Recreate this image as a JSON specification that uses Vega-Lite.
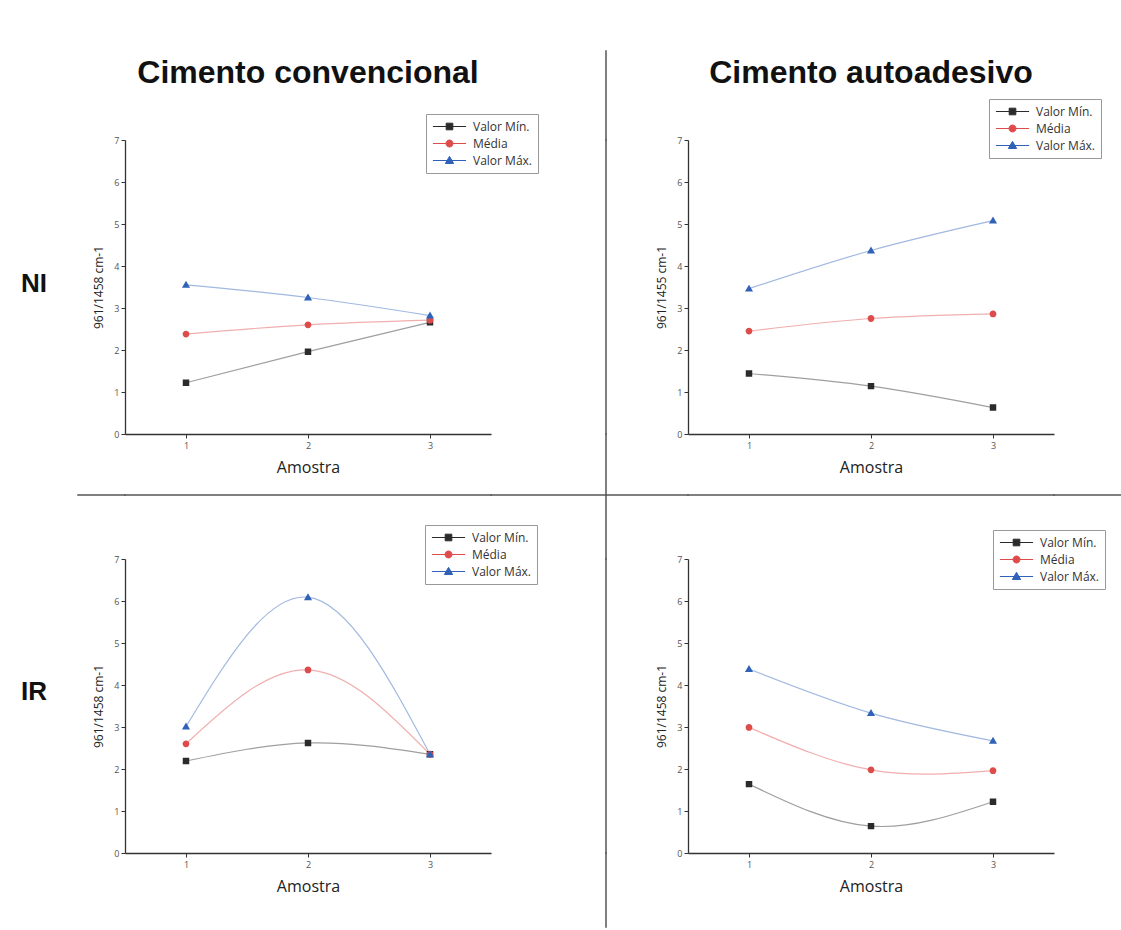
{
  "$schema": "https://vega.github.io/schema/vega-lite/v6.json",
  "background": "white",
  "padding": {"left": 0, "top": 50, "right": 0, "bottom": 5},
  "columns": 8,
  "align": "each",
  "bounds": "flush",
  "spacing": 0,
  "resolve": {"scale": {"color": "independent", "shape": "independent"}, "legend": {"color": "independent", "shape": "independent"}},
  "config": {
    "view": {"stroke": null},
    "axis": {"grid": false, "labelFont": "Open Sans", "labelFontSize": 9, "labelColor": "#555", "titleFont": "Open Sans", "titleFontWeight": "normal", "titleColor": "#222", "domainColor": "#333", "tickColor": "#333", "domainWidth": 1.3, "labelOverlap": false},
    "legend": {"title": null, "fillColor": "white", "strokeColor": "#999", "padding": 6, "symbolSize": 1100, "clipHeight": 13, "symbolOpacity": 1, "symbolStrokeWidth": 1, "symbolStrokeColor": "#999", "labelFont": "Open Sans", "labelFontSize": 12, "labelColor": "#333", "labelOffset": 6, "rowPadding": 4}
  },
  "datasets": {
    "valores": [
      {"painel": "conv_NI", "amostra": 1, "serie": "Valor Mín.", "valor": 1.22},
      {"painel": "conv_NI", "amostra": 2, "serie": "Valor Mín.", "valor": 1.96},
      {"painel": "conv_NI", "amostra": 3, "serie": "Valor Mín.", "valor": 2.66},
      {"painel": "conv_NI", "amostra": 1, "serie": "Média", "valor": 2.38},
      {"painel": "conv_NI", "amostra": 2, "serie": "Média", "valor": 2.6},
      {"painel": "conv_NI", "amostra": 3, "serie": "Média", "valor": 2.71},
      {"painel": "conv_NI", "amostra": 1, "serie": "Valor Máx.", "valor": 3.55},
      {"painel": "conv_NI", "amostra": 2, "serie": "Valor Máx.", "valor": 3.25},
      {"painel": "conv_NI", "amostra": 3, "serie": "Valor Máx.", "valor": 2.82},
      {"painel": "auto_NI", "amostra": 1, "serie": "Valor Mín.", "valor": 1.44},
      {"painel": "auto_NI", "amostra": 2, "serie": "Valor Mín.", "valor": 1.14},
      {"painel": "auto_NI", "amostra": 3, "serie": "Valor Mín.", "valor": 0.63},
      {"painel": "auto_NI", "amostra": 1, "serie": "Média", "valor": 2.45},
      {"painel": "auto_NI", "amostra": 2, "serie": "Média", "valor": 2.75},
      {"painel": "auto_NI", "amostra": 3, "serie": "Média", "valor": 2.86},
      {"painel": "auto_NI", "amostra": 1, "serie": "Valor Máx.", "valor": 3.46},
      {"painel": "auto_NI", "amostra": 2, "serie": "Valor Máx.", "valor": 4.37},
      {"painel": "auto_NI", "amostra": 3, "serie": "Valor Máx.", "valor": 5.08},
      {"painel": "conv_IR", "amostra": 1, "serie": "Valor Mín.", "valor": 2.19},
      {"painel": "conv_IR", "amostra": 2, "serie": "Valor Mín.", "valor": 2.62},
      {"painel": "conv_IR", "amostra": 3, "serie": "Valor Mín.", "valor": 2.35},
      {"painel": "conv_IR", "amostra": 1, "serie": "Média", "valor": 2.6},
      {"painel": "conv_IR", "amostra": 2, "serie": "Média", "valor": 4.36},
      {"painel": "conv_IR", "amostra": 3, "serie": "Média", "valor": 2.35},
      {"painel": "conv_IR", "amostra": 1, "serie": "Valor Máx.", "valor": 3.01},
      {"painel": "conv_IR", "amostra": 2, "serie": "Valor Máx.", "valor": 6.09},
      {"painel": "conv_IR", "amostra": 3, "serie": "Valor Máx.", "valor": 2.35},
      {"painel": "auto_IR", "amostra": 1, "serie": "Valor Mín.", "valor": 1.64},
      {"painel": "auto_IR", "amostra": 2, "serie": "Valor Mín.", "valor": 0.64},
      {"painel": "auto_IR", "amostra": 3, "serie": "Valor Mín.", "valor": 1.22},
      {"painel": "auto_IR", "amostra": 1, "serie": "Média", "valor": 2.99},
      {"painel": "auto_IR", "amostra": 2, "serie": "Média", "valor": 1.98},
      {"painel": "auto_IR", "amostra": 3, "serie": "Média", "valor": 1.96},
      {"painel": "auto_IR", "amostra": 1, "serie": "Valor Máx.", "valor": 4.38},
      {"painel": "auto_IR", "amostra": 2, "serie": "Valor Máx.", "valor": 3.33},
      {"painel": "auto_IR", "amostra": 3, "serie": "Valor Máx.", "valor": 2.67}
    ],
    "rotulos": [
      {"id": "conv", "texto": "Cimento convencional"},
      {"id": "auto", "texto": "Cimento autoadesivo"},
      {"id": "NI", "texto": "NI"},
      {"id": "IR", "texto": "IR"}
    ]
  },
  "concat": [
    {"width": 0.001, "height": 0.001, "data": {"values": []}, "mark": "point"},
    {"width": 0.001, "height": 0.001, "data": {"values": []}, "mark": "point"},
    {"width": 366, "height": 44, "data": {"name": "rotulos"}, "transform": [{"filter": "datum.id == 'conv'"}], "mark": {"type": "text", "font": "Liberation Sans", "fontWeight": "bold", "fontSize": 32, "color": "#111"}, "encoding": {"text": {"field": "texto"}}},
    {"width": 0.001, "height": 0.001, "data": {"values": []}, "mark": "point"},
    {"width": 0.001, "height": 89, "data": {"values": []}, "mark": "point", "view": {"stroke": "#555", "strokeWidth": 1.5}},
    {"width": 0.001, "height": 0.001, "data": {"values": []}, "mark": "point"},
    {"width": 366, "height": 44, "data": {"name": "rotulos"}, "transform": [{"filter": "datum.id == 'auto'"}], "mark": {"type": "text", "font": "Liberation Sans", "fontWeight": "bold", "fontSize": 32, "color": "#111"}, "encoding": {"text": {"field": "texto"}}},
    {"width": 0.001, "height": 0.001, "data": {"values": []}, "mark": "point"},

    {"width": 42, "height": 288, "data": {"name": "rotulos"}, "transform": [{"filter": "datum.id == 'NI'"}], "mark": {"type": "text", "font": "Liberation Sans", "fontWeight": "bold", "fontSize": 26, "align": "left", "color": "#111"}, "encoding": {"text": {"field": "texto"}}},
    {"width": 0.001, "height": 0.001, "data": {"values": []}, "mark": "point"},
    {
      "width": 366, "height": 294,
      "data": {"name": "valores"},
      "transform": [{"filter": "datum.painel == 'conv_NI'"}],
      "encoding": {
        "x": {"field": "amostra", "type": "quantitative", "scale": {"domain": [0.5, 3.5], "nice": false}, "axis": {"title": "Amostra", "values": [1, 1.5, 2, 2.5, 3], "format": "d", "labelExpr": "datum.value % 1 == 0 ? datum.label : ''", "tickSize": {"condition": {"test": "datum.value % 1 != 0", "value": 2}, "value": 4}, "titleFontSize": 16, "titlePadding": 9, "labelPadding": 3}},
        "y": {"field": "valor", "type": "quantitative", "scale": {"domain": [0, 7], "nice": false}, "axis": {"title": "961/1458 cm-1", "tickCount": 70, "format": "d", "labelExpr": "datum.value % 1 == 0 ? datum.label : ''", "tickSize": {"condition": {"test": "datum.value % 1 != 0", "value": 2}, "value": 4}, "titleFontSize": 12, "titlePadding": 8}},
        "color": {"field": "serie", "type": "nominal", "scale": {"domain": ["Valor Mín.", "Média", "Valor Máx."], "range": ["#2b2b2b", "#dd4b4b", "#2f62b8"]},
          "legend": {"orient": "none", "legendX": 301, "legendY": -26, "encode": {"symbols": {"update": {"stroke": {"signal": "datum.value == 'Valor Mín.' ? '#777' : datum.value == 'Média' ? '#ee9a9a' : '#93b8ea'"}}}}}}
      },
      "layer": [
        {"mark": {"type": "line", "interpolate": "natural", "strokeWidth": 1.2, "opacity": 0.45}},
        {"mark": {"type": "point", "filled": true, "size": 1050, "opacity": 1}, "encoding": {"shape": {"field": "serie", "type": "nominal", "scale": {"domain": ["Valor Mín.", "Média", "Valor Máx."], "range": ["M-1,0H1M-0.2,-0.2H0.2V0.2H-0.2Z", "M-1,0H1M0.21,0A0.21,0.21,0,1,1,-0.21,0A0.21,0.21,0,1,1,0.21,0Z", "M-1,0H1M0,-0.25L0.25,0.18H-0.25Z"]}}}}
      ]
    },
    {"width": 0.001, "height": 0.001, "data": {"values": []}, "mark": "point"},
    {"width": 0.001, "height": 294, "data": {"values": []}, "mark": "point", "view": {"stroke": "#555", "strokeWidth": 1.5}},
    {"width": 0.001, "height": 0.001, "data": {"values": []}, "mark": "point"},
    {
      "width": 366, "height": 294,
      "data": {"name": "valores"},
      "transform": [{"filter": "datum.painel == 'auto_NI'"}],
      "encoding": {
        "x": {"field": "amostra", "type": "quantitative", "scale": {"domain": [0.5, 3.5], "nice": false}, "axis": {"title": "Amostra", "values": [1, 1.5, 2, 2.5, 3], "format": "d", "labelExpr": "datum.value % 1 == 0 ? datum.label : ''", "tickSize": {"condition": {"test": "datum.value % 1 != 0", "value": 2}, "value": 4}, "titleFontSize": 16, "titlePadding": 9, "labelPadding": 3}},
        "y": {"field": "valor", "type": "quantitative", "scale": {"domain": [0, 7], "nice": false}, "axis": {"title": "961/1455 cm-1", "tickCount": 70, "format": "d", "labelExpr": "datum.value % 1 == 0 ? datum.label : ''", "tickSize": {"condition": {"test": "datum.value % 1 != 0", "value": 2}, "value": 4}, "titleFontSize": 12, "titlePadding": 8}},
        "color": {"field": "serie", "type": "nominal", "scale": {"domain": ["Valor Mín.", "Média", "Valor Máx."], "range": ["#2b2b2b", "#dd4b4b", "#2f62b8"]},
          "legend": {"orient": "none", "legendX": 301, "legendY": -41, "encode": {"symbols": {"update": {"stroke": {"signal": "datum.value == 'Valor Mín.' ? '#777' : datum.value == 'Média' ? '#ee9a9a' : '#93b8ea'"}}}}}}
      },
      "layer": [
        {"mark": {"type": "line", "interpolate": "natural", "strokeWidth": 1.2, "opacity": 0.45}},
        {"mark": {"type": "point", "filled": true, "size": 1050, "opacity": 1}, "encoding": {"shape": {"field": "serie", "type": "nominal", "scale": {"domain": ["Valor Mín.", "Média", "Valor Máx."], "range": ["M-1,0H1M-0.2,-0.2H0.2V0.2H-0.2Z", "M-1,0H1M0.21,0A0.21,0.21,0,1,1,-0.21,0A0.21,0.21,0,1,1,0.21,0Z", "M-1,0H1M0,-0.25L0.25,0.18H-0.25Z"]}}}}
      ]
    },
    {"width": 0.001, "height": 0.001, "data": {"values": []}, "mark": "point"},

    {"width": 0.001, "height": 0.001, "data": {"values": []}, "mark": "point"},
    {"width": 0.001, "height": 0.001, "data": {"values": []}, "mark": "point"},
    {"width": 0.001, "height": 0.001, "data": {"values": []}, "mark": "point"},
    {"width": 0.001, "height": 0.001, "data": {"values": []}, "mark": "point"},
    {"width": 0.001, "height": 61, "data": {"values": []}, "mark": "point", "view": {"stroke": "#555", "strokeWidth": 1.5}},
    {"width": 0.001, "height": 0.001, "data": {"values": []}, "mark": "point"},
    {"width": 0.001, "height": 0.001, "data": {"values": []}, "mark": "point"},
    {"width": 0.001, "height": 0.001, "data": {"values": []}, "mark": "point"},

    {"width": 78, "height": 0.001, "data": {"values": []}, "mark": "point"},
    {"width": 47, "height": 0.001, "data": {"values": []}, "mark": "point", "view": {"stroke": "#555", "strokeWidth": 1.5}},
    {"width": 366, "height": 0.001, "data": {"values": []}, "mark": "point", "view": {"stroke": "#555", "strokeWidth": 1.5}},
    {"width": 115, "height": 0.001, "data": {"values": []}, "mark": "point", "view": {"stroke": "#555", "strokeWidth": 1.5}},
    {"width": 0.001, "height": 0.001, "data": {"values": []}, "mark": "point"},
    {"width": 81, "height": 0.001, "data": {"values": []}, "mark": "point", "view": {"stroke": "#555", "strokeWidth": 1.5}},
    {"width": 366, "height": 0.001, "data": {"values": []}, "mark": "point", "view": {"stroke": "#555", "strokeWidth": 1.5}},
    {"width": 68, "height": 0.001, "data": {"values": []}, "mark": "point", "view": {"stroke": "#555", "strokeWidth": 1.5}},

    {"width": 0.001, "height": 0.001, "data": {"values": []}, "mark": "point"},
    {"width": 0.001, "height": 0.001, "data": {"values": []}, "mark": "point"},
    {"width": 0.001, "height": 0.001, "data": {"values": []}, "mark": "point"},
    {"width": 0.001, "height": 0.001, "data": {"values": []}, "mark": "point"},
    {"width": 0.001, "height": 63, "data": {"values": []}, "mark": "point", "view": {"stroke": "#555", "strokeWidth": 1.5}},
    {"width": 0.001, "height": 0.001, "data": {"values": []}, "mark": "point"},
    {"width": 0.001, "height": 0.001, "data": {"values": []}, "mark": "point"},
    {"width": 0.001, "height": 0.001, "data": {"values": []}, "mark": "point"},

    {"width": 42, "height": 266, "data": {"name": "rotulos"}, "transform": [{"filter": "datum.id == 'IR'"}], "mark": {"type": "text", "font": "Liberation Sans", "fontWeight": "bold", "fontSize": 26, "align": "left", "color": "#111"}, "encoding": {"text": {"field": "texto"}}},
    {"width": 0.001, "height": 0.001, "data": {"values": []}, "mark": "point"},
    {
      "width": 366, "height": 294,
      "data": {"name": "valores"},
      "transform": [{"filter": "datum.painel == 'conv_IR'"}],
      "encoding": {
        "x": {"field": "amostra", "type": "quantitative", "scale": {"domain": [0.5, 3.5], "nice": false}, "axis": {"title": "Amostra", "values": [1, 1.5, 2, 2.5, 3], "format": "d", "labelExpr": "datum.value % 1 == 0 ? datum.label : ''", "tickSize": {"condition": {"test": "datum.value % 1 != 0", "value": 2}, "value": 4}, "titleFontSize": 16, "titlePadding": 9, "labelPadding": 3}},
        "y": {"field": "valor", "type": "quantitative", "scale": {"domain": [0, 7], "nice": false}, "axis": {"title": "961/1458 cm-1", "tickCount": 70, "format": "d", "labelExpr": "datum.value % 1 == 0 ? datum.label : ''", "tickSize": {"condition": {"test": "datum.value % 1 != 0", "value": 2}, "value": 4}, "titleFontSize": 12, "titlePadding": 8}},
        "color": {"field": "serie", "type": "nominal", "scale": {"domain": ["Valor Mín.", "Média", "Valor Máx."], "range": ["#2b2b2b", "#dd4b4b", "#2f62b8"]},
          "legend": {"orient": "none", "legendX": 300, "legendY": -34, "encode": {"symbols": {"update": {"stroke": {"signal": "datum.value == 'Valor Mín.' ? '#777' : datum.value == 'Média' ? '#ee9a9a' : '#93b8ea'"}}}}}}
      },
      "layer": [
        {"mark": {"type": "line", "interpolate": "natural", "strokeWidth": 1.2, "opacity": 0.45}},
        {"mark": {"type": "point", "filled": true, "size": 1050, "opacity": 1}, "encoding": {"shape": {"field": "serie", "type": "nominal", "scale": {"domain": ["Valor Mín.", "Média", "Valor Máx."], "range": ["M-1,0H1M-0.2,-0.2H0.2V0.2H-0.2Z", "M-1,0H1M0.21,0A0.21,0.21,0,1,1,-0.21,0A0.21,0.21,0,1,1,0.21,0Z", "M-1,0H1M0,-0.25L0.25,0.18H-0.25Z"]}}}}
      ]
    },
    {"width": 0.001, "height": 0.001, "data": {"values": []}, "mark": "point"},
    {"width": 0.001, "height": 294, "data": {"values": []}, "mark": "point", "view": {"stroke": "#555", "strokeWidth": 1.5}},
    {"width": 0.001, "height": 0.001, "data": {"values": []}, "mark": "point"},
    {
      "width": 366, "height": 294,
      "data": {"name": "valores"},
      "transform": [{"filter": "datum.painel == 'auto_IR'"}],
      "encoding": {
        "x": {"field": "amostra", "type": "quantitative", "scale": {"domain": [0.5, 3.5], "nice": false}, "axis": {"title": "Amostra", "values": [1, 1.5, 2, 2.5, 3], "format": "d", "labelExpr": "datum.value % 1 == 0 ? datum.label : ''", "tickSize": {"condition": {"test": "datum.value % 1 != 0", "value": 2}, "value": 4}, "titleFontSize": 16, "titlePadding": 9, "labelPadding": 3}},
        "y": {"field": "valor", "type": "quantitative", "scale": {"domain": [0, 7], "nice": false}, "axis": {"title": "961/1458 cm-1", "tickCount": 70, "format": "d", "labelExpr": "datum.value % 1 == 0 ? datum.label : ''", "tickSize": {"condition": {"test": "datum.value % 1 != 0", "value": 2}, "value": 4}, "titleFontSize": 12, "titlePadding": 8}},
        "color": {"field": "serie", "type": "nominal", "scale": {"domain": ["Valor Mín.", "Média", "Valor Máx."], "range": ["#2b2b2b", "#dd4b4b", "#2f62b8"]},
          "legend": {"orient": "none", "legendX": 305, "legendY": -29, "encode": {"symbols": {"update": {"stroke": {"signal": "datum.value == 'Valor Mín.' ? '#777' : datum.value == 'Média' ? '#ee9a9a' : '#93b8ea'"}}}}}}
      },
      "layer": [
        {"mark": {"type": "line", "interpolate": "natural", "strokeWidth": 1.2, "opacity": 0.45}},
        {"mark": {"type": "point", "filled": true, "size": 1050, "opacity": 1}, "encoding": {"shape": {"field": "serie", "type": "nominal", "scale": {"domain": ["Valor Mín.", "Média", "Valor Máx."], "range": ["M-1,0H1M-0.2,-0.2H0.2V0.2H-0.2Z", "M-1,0H1M0.21,0A0.21,0.21,0,1,1,-0.21,0A0.21,0.21,0,1,1,0.21,0Z", "M-1,0H1M0,-0.25L0.25,0.18H-0.25Z"]}}}}
      ]
    },
    {"width": 0.001, "height": 0.001, "data": {"values": []}, "mark": "point"},

    {"width": 0.001, "height": 0.001, "data": {"values": []}, "mark": "point"},
    {"width": 0.001, "height": 0.001, "data": {"values": []}, "mark": "point"},
    {"width": 0.001, "height": 0.001, "data": {"values": []}, "mark": "point"},
    {"width": 0.001, "height": 0.001, "data": {"values": []}, "mark": "point"},
    {"width": 0.001, "height": 74, "data": {"values": []}, "mark": "point", "view": {"stroke": "#555", "strokeWidth": 1.5}},
    {"width": 0.001, "height": 0.001, "data": {"values": []}, "mark": "point"},
    {"width": 0.001, "height": 0.001, "data": {"values": []}, "mark": "point"},
    {"width": 0.001, "height": 0.001, "data": {"values": []}, "mark": "point"}
  ]
}
